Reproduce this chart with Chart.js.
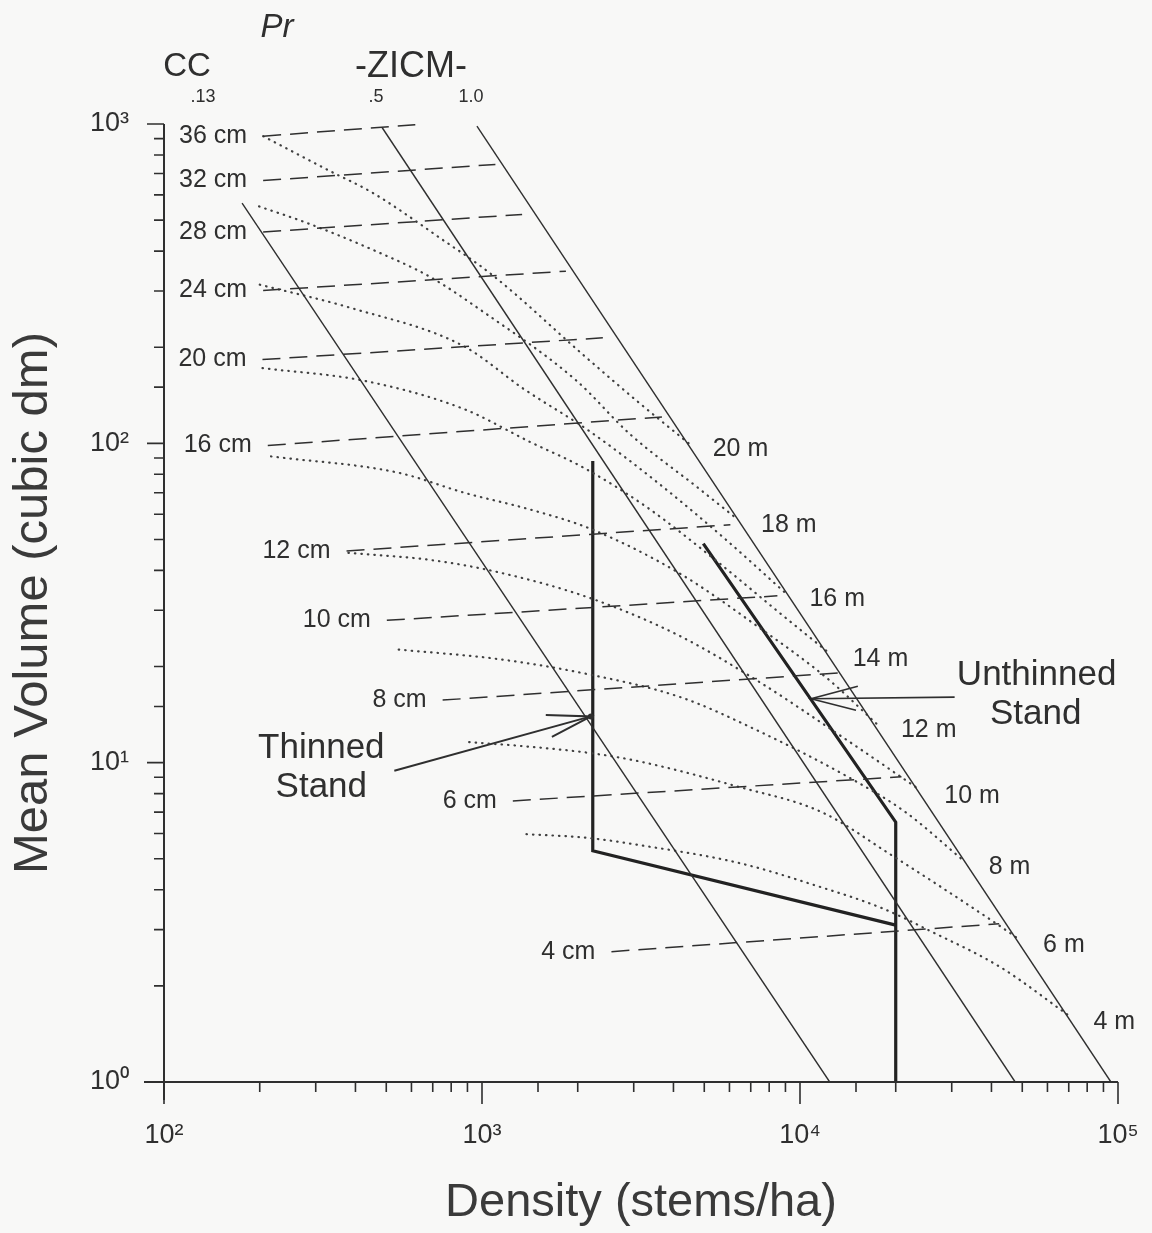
<!DOCTYPE html>
<html>
<head>
<meta charset="utf-8">
<title>Density management diagram</title>
<script src="https://cdn.jsdelivr.net/npm/chart.js@4.4.0/dist/chart.umd.min.js"></script>
<style>
  html, body { margin: 0; padding: 0; background: #f8f8f7; }
  #wrap { width: 1152px; height: 1233px; }
</style>
</head>
<body>
<div id="wrap"><canvas id="dmd" width="1152" height="1233"></canvas></div>
<script>
// Density management diagram: mean tree volume against stand density, log-log

const ink = '#2f2f2f';
const dots = '#404040';
const fontFamily = '"Liberation Sans", Arial, Helvetica, sans-serif';

// relative density (ZICM) lines: upper end and the density where they reach 1 dm3
const rdLevels = ['.13', '.5', '1.0'];
const rdTopN = [176, 485, 964];
const rdTopV = [565, 975, 985];
const rdBaseN = [12400, 47500, 95000];

// mean diameter isolines (dashed)
const diamLabels = ['36 cm', '32 cm', '28 cm', '24 cm', '20 cm', '16 cm', '12 cm', '10 cm', '8 cm', '6 cm', '4 cm'];
const diamStartN = [205, 205, 205, 205, 204, 212, 375, 502, 752, 1250, 2553];
const diamStartV = [916, 665, 459, 301, 183, 98.4, 46.0, 27.9, 15.7, 7.59, 2.56];
const diamEndN = [617, 1102, 1337, 1836, 2399, 3680, 6040, 8490, 13160, 20850, 42300];
const diamEndV = [995, 747, 521, 346, 214, 121, 55.6, 33.3, 19.1, 9.03, 3.13];

// top height isolines (dotted), one row per height
const heightLabels = ['20 m', '18 m', '16 m', '14 m', '12 m', '10 m', '8 m', '6 m', '4 m'];
const heightN = [
  [205, 330, 454, 732, 1084, 2084, 3062, 4467],
  [199, 286, 455, 683, 1010, 1983, 2915, 4741, 6339],
  [200, 384, 876, 1353, 2183, 3551, 5692, 8996],
  [204, 426, 878, 1416, 2095, 3306, 5498, 8499, 12310],
  [217, 543, 881, 1421, 2193, 4121, 7361, 12230, 17460],
  [380, 692, 1123, 2200, 4132, 7379, 14170, 23890],
  [547, 1127, 2114, 4235, 7237, 14510, 21460, 32940],
  [911, 1437, 2215, 3112, 6416, 11700, 19020, 40150, 48840],
  [1380, 2130, 3124, 6436, 11320, 18130, 26040, 42630, 70330]
];
const heightV = [
  [916, 715, 608, 442, 335, 189, 136, 100],
  [552, 487, 403, 333, 258, 157, 107, 73, 58],
  [314, 266, 201.5, 148, 109, 75.6, 51.1, 34.0],
  [172, 157, 128, 101, 83.7, 63.0, 42.6, 29.8, 22.1],
  [91, 81, 70, 62, 54, 39.5, 26.7, 18.3, 13.2],
  [45.4, 43.1, 39.5, 32.7, 25.1, 18.0, 11.7, 8.2],
  [22.6, 21.1, 19.0, 16.0, 12.7, 8.9, 7.0, 4.9],
  [11.6, 11.2, 10.7, 10.1, 8.4, 7.0, 5.2, 3.2, 2.8],
  [5.97, 5.82, 5.52, 4.85, 4.11, 3.50, 2.95, 2.29, 1.61]
];

// stand trajectories
const unthinnedN = [4965, 20000, 20000];
const unthinnedV = [48.5, 6.51, 1];
const thinnedN = [20000, 2230, 2230];
const thinnedV = [3.10, 5.30, 88.1];

// pointer arrows: shaft (tail -> tip) and the two barbs through the tip
const thinShaftN = [530, 2200];
const thinShaftV = [9.43, 13.96];
const thinBarbN = [1587, 2200, 1659];
const thinBarbV = [14.11, 13.96, 12.04];
const unthinShaftN = [30640, 10830];
const unthinShaftV = [16.04, 15.85];
const unthinBarbN = [15200, 10830, 15000];
const unthinBarbV = [17.35, 15.85, 14.59];

const sup = ['⁰', '¹', '²', '³', '⁴', '⁵'];
function decade(v) {
  const e = Math.log10(v);
  return Math.abs(e - Math.round(e)) < 1e-9 ? Math.round(e) : null;
}
function powLabel(v) {
  const e = decade(v);
  return e === null ? '' : '10' + sup[e];
}

function line(label, ns, vs, style) {
  return Object.assign({
    label: label,
    data: ns.map((n, i) => ({ x: n, y: vs[i] })),
    showLine: true,
    pointRadius: 0,
    borderColor: ink,
    borderWidth: 1.5,
    fill: false
  }, style);
}

const datasets = [];
rdLevels.forEach((lvl, i) => {
  datasets.push(line('ZICM ' + lvl, [rdTopN[i], rdBaseN[i]], [rdTopV[i], 1], { borderWidth: 1.4 }));
});
diamLabels.forEach((d, i) => {
  datasets.push(line(d, [diamStartN[i], diamEndN[i]], [diamStartV[i], diamEndV[i]],
    { borderDash: [18, 9], borderWidth: 1.5 }));
});
heightLabels.forEach((h, i) => {
  datasets.push(line(h, heightN[i], heightV[i], {
    borderColor: dots, borderWidth: 2.2, borderDash: [0.5, 6], borderCapStyle: 'round',
    cubicInterpolationMode: 'monotone'
  }));
});
datasets.push(line('Unthinned stand', unthinnedN, unthinnedV, { borderWidth: 3.2, borderColor: '#222' }));
datasets.push(line('Thinned stand', thinnedN, thinnedV, { borderWidth: 3.2, borderColor: '#222' }));
datasets.push(line('thinned arrow', thinShaftN, thinShaftV, { borderWidth: 2 }));
datasets.push(line('thinned arrow head', thinBarbN, thinBarbV, { borderWidth: 2 }));
datasets.push(line('unthinned arrow', unthinShaftN, unthinShaftV, { borderWidth: 1.6 }));
datasets.push(line('unthinned arrow head', unthinBarbN, unthinBarbV, { borderWidth: 1.6 }));

// axis lines with long decade ticks and short minor ticks
const frame = {
  id: 'frame',
  afterDatasetsDraw(chart) {
    const { ctx, chartArea: a } = chart;
    const x = chart.scales.x, y = chart.scales.y;
    ctx.save();
    ctx.strokeStyle = ink;
    ctx.lineWidth = 2;
    ctx.beginPath();
    ctx.moveTo(a.left, a.top);
    ctx.lineTo(a.left, a.bottom + 18);
    ctx.moveTo(a.left - 20, a.bottom);
    ctx.lineTo(a.right, a.bottom);
    ctx.stroke();
    ctx.lineWidth = 1.6;
    ctx.beginPath();
    y.ticks.forEach(t => {
      const py = y.getPixelForValue(t.value);
      const len = decade(t.value) === null ? 10 : 17;
      ctx.moveTo(a.left - len, py);
      ctx.lineTo(a.left, py);
    });
    x.ticks.forEach(t => {
      const px = x.getPixelForValue(t.value);
      const len = decade(t.value) === null ? 10 : 22;
      ctx.moveTo(px, a.bottom);
      ctx.lineTo(px, a.bottom + len);
    });
    ctx.stroke();
    ctx.restore();
  }
};

// isoline labels, stand labels and the column headings above the plot
const levelX = [203, 376, 471];
const notes = {
  id: 'notes',
  afterDatasetsDraw(chart) {
    const ctx = chart.ctx;
    const x = chart.scales.x, y = chart.scales.y;
    const px = n => x.getPixelForValue(n);
    const py = v => y.getPixelForValue(v);
    ctx.save();
    ctx.fillStyle = ink;
    ctx.textBaseline = 'middle';

    ctx.font = '25px ' + fontFamily;
    ctx.textAlign = 'right';
    diamLabels.forEach((t, i) => ctx.fillText(t, px(diamStartN[i]) - 16, py(diamStartV[i])));

    ctx.textAlign = 'left';
    heightLabels.forEach((t, i) => {
      const ns = heightN[i], vs = heightV[i];
      ctx.fillText(t, px(ns[ns.length - 1]) + 24, py(vs[vs.length - 1]) + 6);
    });

    // small dot where the thinned-stand pointer lands
    ctx.beginPath();
    ctx.arc(px(thinShaftN[1]), py(thinShaftV[1]), 3, 0, Math.PI * 2);
    ctx.fill();

    ctx.font = '35px ' + fontFamily;
    ctx.textAlign = 'center';
    const tx = px(thinShaftN[0]), ty = py(thinShaftV[0]);
    ctx.fillText('Thinned', tx - 73, ty - 22);
    ctx.fillText('Stand', tx - 73, ty + 17);
    const ux = px(unthinShaftN[0]), uy = py(unthinShaftV[0]);
    ctx.fillText('Unthinned', ux + 82, uy - 22);
    ctx.fillText('Stand', ux + 81, uy + 17);

    ctx.font = 'italic 33px ' + fontFamily;
    ctx.fillText('Pr', 277, 28);
    ctx.font = '33px ' + fontFamily;
    ctx.fillText('CC', 187, 67);
    ctx.font = '36px ' + fontFamily;
    ctx.fillText('-ZICM-', 411, 67);
    ctx.font = '18px ' + fontFamily;
    rdLevels.forEach((lvl, i) => ctx.fillText(lvl, levelX[i], 97));
    ctx.restore();
  }
};

Chart.defaults.font.family = fontFamily;
Chart.defaults.color = ink;

new Chart(document.getElementById('dmd'), {
  type: 'scatter',
  data: { datasets: datasets },
  options: {
    responsive: false,
    animation: false,
    devicePixelRatio: 1,
    layout: { padding: { top: 124, right: 34, left: 0, bottom: 0 } },
    plugins: { legend: { display: false }, tooltip: { enabled: false } },
    scales: {
      x: {
        type: 'logarithmic',
        min: 100,
        max: 100000,
        grid: { display: false },
        border: { display: false },
        ticks: { autoSkip: false, maxRotation: 0, padding: 29, font: { size: 27 }, callback: powLabel },
        title: { display: true, text: 'Density (stems/ha)', color: '#3a3a3a', font: { size: 47 }, padding: { top: 0, bottom: 2 } },
        afterFit: s => { s.height = 151; s.paddingLeft = 0; s.paddingRight = 0; }
      },
      y: {
        type: 'logarithmic',
        min: 1,
        max: 1000,
        grid: { display: false },
        border: { display: false },
        ticks: { autoSkip: false, padding: 27, font: { size: 27 }, callback: powLabel },
        title: { display: true, text: 'Mean Volume (cubic dm)', color: '#3a3a3a', font: { size: 49 }, padding: { top: 4, bottom: 0 } },
        afterFit: s => { s.width = 164; s.paddingTop = 0; s.paddingBottom = 0; }
      }
    }
  },
  plugins: [frame, notes]
});
</script>
</body>
</html>
